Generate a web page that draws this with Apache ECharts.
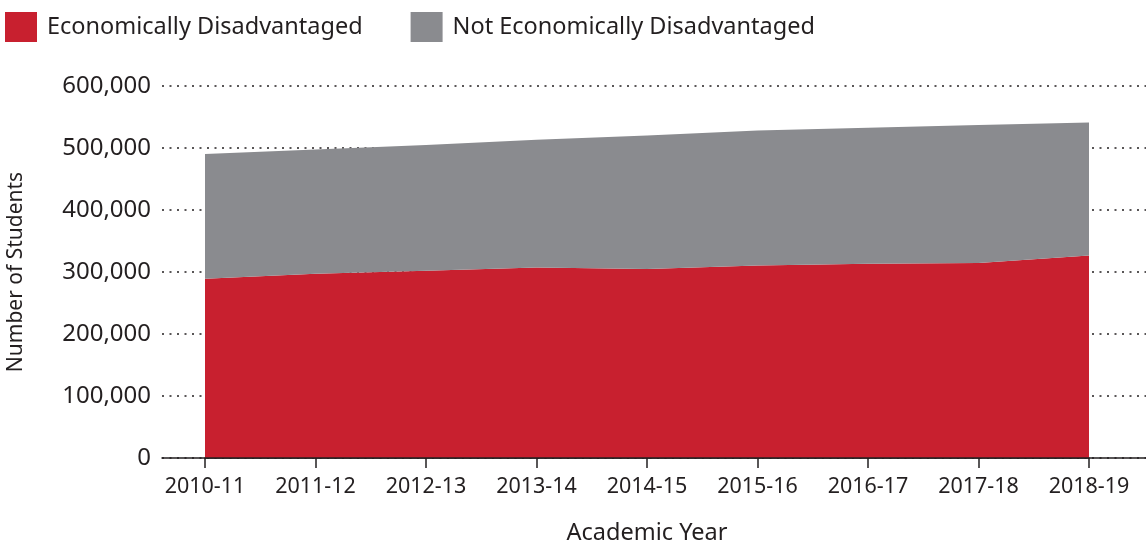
<!DOCTYPE html>
<html>
<head>
<meta charset="utf-8">
<script src="https://cdn.jsdelivr.net/npm/echarts@6/dist/echarts.min.js"></script>
<style>
  html, body { margin: 0; padding: 0; background: #fff; }
  #chart_main { width: 1146px; height: 548px; }
</style>
</head>
<body>
<div id="chart_main"></div>
<script>
var years = ['2010-11', '2011-12', '2012-13', '2013-14', '2014-15', '2015-16', '2016-17', '2017-18', '2018-19'];
var econDisadv = [289200, 297300, 302100, 307400, 304800, 310600, 313400, 314500, 326800];
var notEconDisadv = [201100, 200400, 202700, 206000, 215500, 217800, 219200, 222500, 214500];
var yTicks = [0, 100000, 200000, 300000, 400000, 500000, 600000];

var textColor = '#231f20';
var fontName = 'Noto Sans';

var myChart = echarts.init(document.getElementById('chart_main'));
var option = {
    animation: false,
    textStyle: { fontFamily: fontName, color: textColor },
    legend: {
        left: 0,
        top: 7,
        icon: 'rect',
        itemWidth: 32,
        itemHeight: 30,
        itemGap: 48,
        textStyle: { fontSize: 23.5, color: textColor, padding: [0, 0, 0, 5] },
        data: ['Economically Disadvantaged', 'Not Economically Disadvantaged']
    },
    grid: [
        { left: 162, right: 0, top: 86, bottom: 90, outerBoundsMode: 'none' },
        { left: 205, right: 57, top: 86, bottom: 90, outerBoundsMode: 'none' }
    ],
    xAxis: [
        {
            gridIndex: 0,
            type: 'value',
            min: 0,
            max: 1,
            axisLine: { show: true, lineStyle: { color: textColor, width: 1.5 } },
            axisTick: { show: false },
            axisLabel: { show: false },
            splitLine: { show: false }
        },
        {
            gridIndex: 1,
            type: 'category',
            boundaryGap: false,
            data: years,
            z: 5,
            axisLine: { show: true, lineStyle: { color: textColor, width: 1.5 } },
            axisTick: { show: true, length: 10, lineStyle: { color: textColor, width: 1.5 } },
            axisLabel: { fontSize: 21.5, color: textColor, margin: 18 },
            name: 'Academic Year',
            nameLocation: 'middle',
            nameGap: 63,
            nameTextStyle: { fontSize: 23.5, color: textColor }
        }
    ],
    yAxis: [
        {
            gridIndex: 0,
            type: 'value',
            min: 0,
            max: yTicks[yTicks.length - 1],
            interval: yTicks[1] - yTicks[0],
            axisLine: { show: false },
            axisTick: { show: false },
            axisLabel: {
                fontSize: 24,
                color: textColor,
                margin: 11,
                formatter: function (v) { return v.toLocaleString('en-US'); }
            },
            splitLine: { show: true, lineStyle: { color: textColor, width: 1.6, type: [2, 5.5] } },
            name: 'Number of Students',
            nameLocation: 'middle',
            nameGap: 135,
            nameTextStyle: { fontSize: 21, color: textColor }
        },
        {
            gridIndex: 1,
            type: 'value',
            min: 0,
            max: yTicks[yTicks.length - 1],
            show: false
        }
    ],
    series: [
        {
            name: 'Economically Disadvantaged',
            type: 'line',
            xAxisIndex: 1,
            yAxisIndex: 1,
            stack: 'total',
            symbol: 'none',
            data: econDisadv,
            itemStyle: { color: '#c8202f' },
            lineStyle: { width: 0 },
            areaStyle: { color: '#c8202f', opacity: 1 }
        },
        {
            name: 'Not Economically Disadvantaged',
            type: 'line',
            xAxisIndex: 1,
            yAxisIndex: 1,
            stack: 'total',
            symbol: 'none',
            data: notEconDisadv,
            itemStyle: { color: '#8a8b8f' },
            lineStyle: { width: 0 },
            areaStyle: { color: '#8a8b8f', opacity: 1 }
        }
    ]
};
myChart.setOption(option);
</script>
</body>
</html>
